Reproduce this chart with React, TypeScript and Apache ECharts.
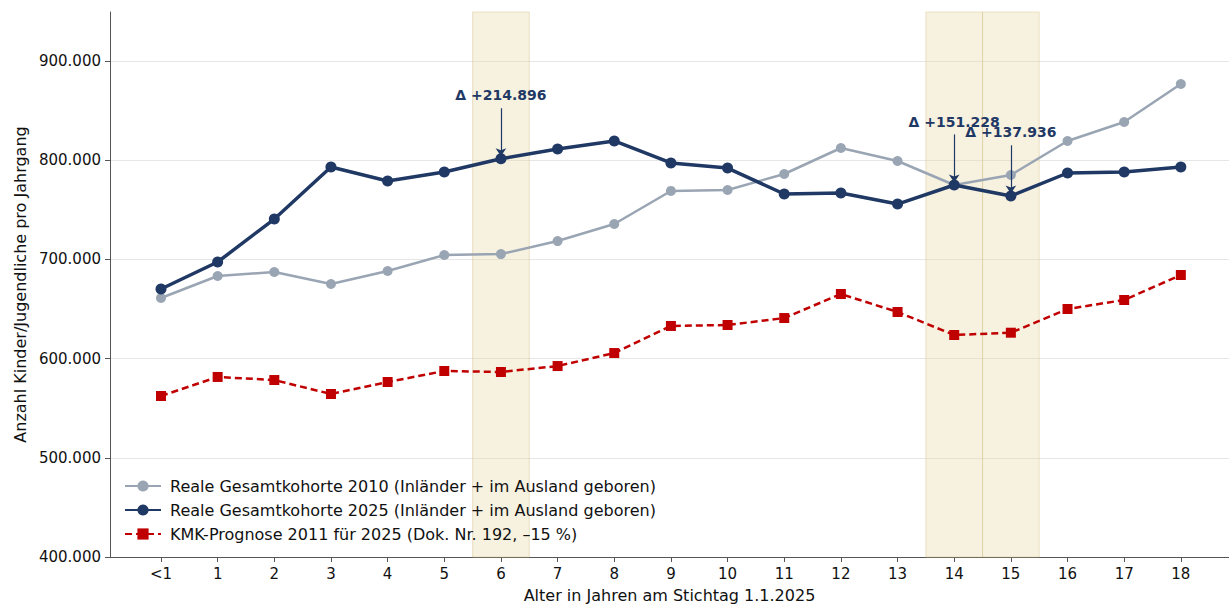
import React, { useEffect, useRef } from "react";
import * as echarts from "echarts";

const categories = ["<1", "1", "2", "3", "4", "5", "6", "7", "8", "9", "10", "11", "12", "13", "14", "15", "16", "17", "18"];
const kohorte2010 = [661100, 683300, 687300, 675200, 688300, 704400, 705400, 718500, 735700, 769000, 770000, 786100, 812300, 799200, 775000, 785100, 819400, 838500, 876800];
const kohorte2025 = [670200, 697400, 740700, 793100, 779000, 788100, 801400, 811300, 819400, 797200, 792100, 765900, 766900, 755800, 775000, 764000, 787100, 788100, 793100];
const kmkPrognose = [562300, 581500, 578400, 564300, 576400, 587500, 586500, 592500, 605600, 632900, 633900, 640900, 665100, 647000, 623800, 626100, 650000, 659100, 684300];
const deltaIdx = [6, 14, 15];
const deltaLabels = ["Δ +214.896", "Δ +151.228", "Δ +137.936"];
const yTicks = [400000, 500000, 600000, 700000, 800000, 900000];

const NAVY = "#1f3864";
const GRAY = "#9aa5b4";
const RED = "#c00000";
const FONT = "DejaVu Sans";

const fmt = (v: number) => {
  const s = Math.round(v).toString();
  return s.replace(/\B(?=(\d{3})+(?!\d))/g, ".");
};

export default function App() {
  const ref = useRef<HTMLDivElement>(null);
  useEffect(() => {
    document.body.style.margin = "0";
    const chart = echarts.init(ref.current!, null, { renderer: "svg" });
    const toPairs = (arr: number[]) => arr.map((v, i) => [i, v]);
    const arrowStart = 51000;
    const arrowEnd = 2500;
    const labelOffset = 64000;
    const option: any = {
      animation: false,
      textStyle: { fontFamily: FONT },
      grid: { left: 110, right: 0, top: 12, bottom: 47, outerBoundsMode: "none", containLabel: false },
      legend: {
        left: 119,
        top: 473,
        orient: "vertical",
        itemWidth: 36,
        itemHeight: 14,
        itemGap: 8,
        textStyle: { fontSize: 16, color: "#111", fontFamily: FONT, padding: [0, 0, 0, 4] },
        data: [
          "Reale Gesamtkohorte 2010 (Inländer + im Ausland geboren)",
          "Reale Gesamtkohorte 2025 (Inländer + im Ausland geboren)",
          "KMK-Prognose 2011 für 2025 (Dok. Nr. 192, –15 %)",
        ],
      },
      xAxis: {
        type: "value",
        min: -0.9,
        max: 18.85,
        name: "Alter in Jahren am Stichtag 1.1.2025",
        nameLocation: "middle",
        nameGap: 30,
        nameTextStyle: { fontSize: 16, color: "#111", fontFamily: FONT },
        axisLine: { show: true, onZero: false, lineStyle: { color: "#555", width: 1 } },
        axisTick: {
          show: true,
          customValues: categories.map((_, i) => i),
          length: 5,
          inside: false,
          lineStyle: { color: "#555" },
        },
        axisLabel: {
          customValues: categories.map((_, i) => i),
          formatter: (v: number) => categories[Math.round(v)] ?? "",
          fontSize: 15,
          color: "#111",
          margin: 9,
          fontFamily: FONT,
        },
        splitLine: { show: false },
      },
      yAxis: {
        type: "value",
        min: 400000,
        max: 949400,
        name: "Anzahl Kinder/Jugendliche pro Jahrgang",
        nameLocation: "middle",
        nameGap: 82,
        nameRotate: 90,
        nameTextStyle: { fontSize: 16, color: "#111", fontFamily: FONT },
        axisLine: { show: true, onZero: false, lineStyle: { color: "#555", width: 1 } },
        axisTick: { show: true, customValues: yTicks, length: 5, lineStyle: { color: "#555" } },
        axisLabel: {
          customValues: yTicks,
          formatter: (v: number) => fmt(v),
          fontSize: 15,
          color: "#111",
          margin: 9,
          fontFamily: FONT,
        },
        splitLine: { show: true, lineStyle: { color: "#e6e6e6", width: 1 } },
      },
      series: [
        {
          name: "bands",
          type: "line",
          data: [],
          silent: true,
          markArea: {
            silent: true,
            itemStyle: { color: "rgba(232, 216, 165, 0.35)", borderColor: "rgba(215, 195, 140, 0.45)", borderWidth: 1 },
            data: [
              [{ xAxis: 5.5 }, { xAxis: 6.5 }],
              [{ xAxis: 13.5 }, { xAxis: 14.5 }],
              [{ xAxis: 14.5 }, { xAxis: 15.5 }],
            ],
          },
        },
        {
          name: "Reale Gesamtkohorte 2010 (Inländer + im Ausland geboren)",
          type: "line",
          data: toPairs(kohorte2010),
          color: GRAY,
          lineStyle: { width: 2.5, color: GRAY },
          itemStyle: { color: GRAY },
          symbol: "circle",
          symbolSize: 10,
          z: 3,
        },
        {
          name: "Reale Gesamtkohorte 2025 (Inländer + im Ausland geboren)",
          type: "line",
          data: toPairs(kohorte2025),
          color: NAVY,
          lineStyle: { width: 3.5, color: NAVY },
          itemStyle: { color: NAVY },
          symbol: "circle",
          symbolSize: 11,
          z: 4,
          markLine: {
            silent: true,
            symbol: ["none", "arrow"],
            symbolSize: 8,
            lineStyle: { color: NAVY, width: 1.2, type: "solid" },
            label: { show: false },
            data: deltaIdx.map((i) => [
              { coord: [i, kohorte2025[i] + arrowStart] },
              { coord: [i, kohorte2025[i] + arrowEnd] },
            ]),
          },
          markPoint: {
            silent: true,
            symbol: "circle",
            symbolSize: 0,
            label: {
              show: true,
              position: "inside",
              color: NAVY,
              fontWeight: "bold",
              fontSize: 14,
              fontFamily: FONT,
              formatter: (p: any) => p.name,
            },
            data: deltaIdx.map((i, k) => ({
              name: deltaLabels[k],
              coord: [i, kohorte2025[i] + labelOffset],
            })),
          },
        },
        {
          name: "KMK-Prognose 2011 für 2025 (Dok. Nr. 192, –15 %)",
          type: "line",
          data: toPairs(kmkPrognose),
          color: RED,
          lineStyle: { width: 2.5, color: RED, type: [7, 4] },
          itemStyle: { color: RED },
          symbol: "rect",
          symbolSize: 10,
          z: 3,
        },
      ],
    };
    chart.setOption(option);
    return () => chart.dispose();
  }, []);
  return <div ref={ref} style={{ width: 1229, height: 604 }} />;
}
